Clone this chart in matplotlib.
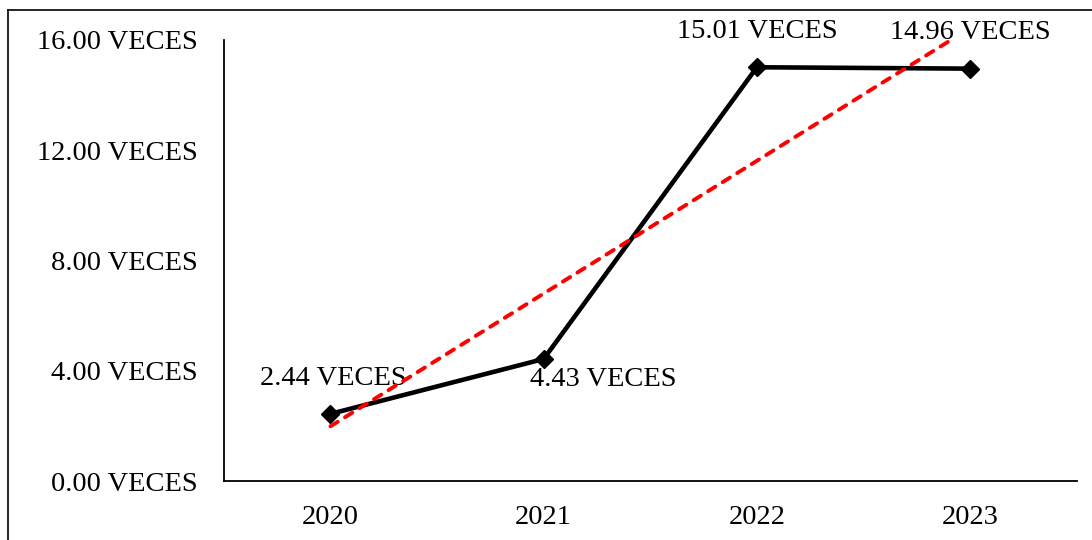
import numpy as np
import matplotlib.pyplot as plt
from matplotlib.lines import Line2D

# Data
years = ['2020', '2021', '2022', '2023']
values = [2.44, 4.43, 15.01, 14.96]
labels = ['2.44 VECES', '4.43 VECES', '15.01 VECES', '14.96 VECES']
yticks = [0, 4, 8, 12, 16]

plt.rcParams['font.family'] = ['Liberation Serif', 'DejaVu Serif']

fig = plt.figure(figsize=(10.92, 5.4), dpi=100)
ax = fig.add_axes([0.205, 0.109, 0.781, 0.817])

x = np.arange(len(years))
ax.plot(x, values, color='black', lw=3.3, marker='D', markersize=9, zorder=3)

# Linear trend line (Excel style)
coef = np.polyfit(x, values, 1)
ax.plot(x, np.polyval(coef, x), color='#ff0000', lw=2.8, ls=(0, (2.2, 2.2)),
        dash_capstyle='round', zorder=4)

# Data labels (offset in data units, pixel shift in x)
offsets = [(3, 1.3), (60, -0.75), (0, 1.3), (0, 1.3)]
for i, (lab, v) in enumerate(zip(labels, values)):
    dx, dy = offsets[i]
    ax.annotate(lab, (x[i], v + dy), xytext=(dx, 0), textcoords='offset pixels',
                ha='center', va='center', fontsize=20.5, annotation_clip=False)

ax.set_xlim(-0.5, 3.5)
ax.set_ylim(0, 16)
ax.set_xticks(x)
ax.set_xticklabels(years, fontsize=20.5)
ax.set_yticks(yticks)
ax.set_yticklabels(['%.2f VECES' % t for t in yticks], fontsize=20.5)
ax.tick_params(axis='both', length=0)
ax.tick_params(axis='y', pad=19)
ax.tick_params(axis='x', pad=17)
for s in ['top', 'right']:
    ax.spines[s].set_visible(False)
for s in ['left', 'bottom']:
    ax.spines[s].set_linewidth(1.3)

# Outer chart border
fig.add_artist(Line2D([8 / 1092, 8 / 1092], [0, 1 - 10 / 540], color='black', lw=1.2))
fig.add_artist(Line2D([8 / 1092, 1], [1 - 10 / 540, 1 - 10 / 540], color='black', lw=1.2))

fig.savefig('out.png', dpi=100)
